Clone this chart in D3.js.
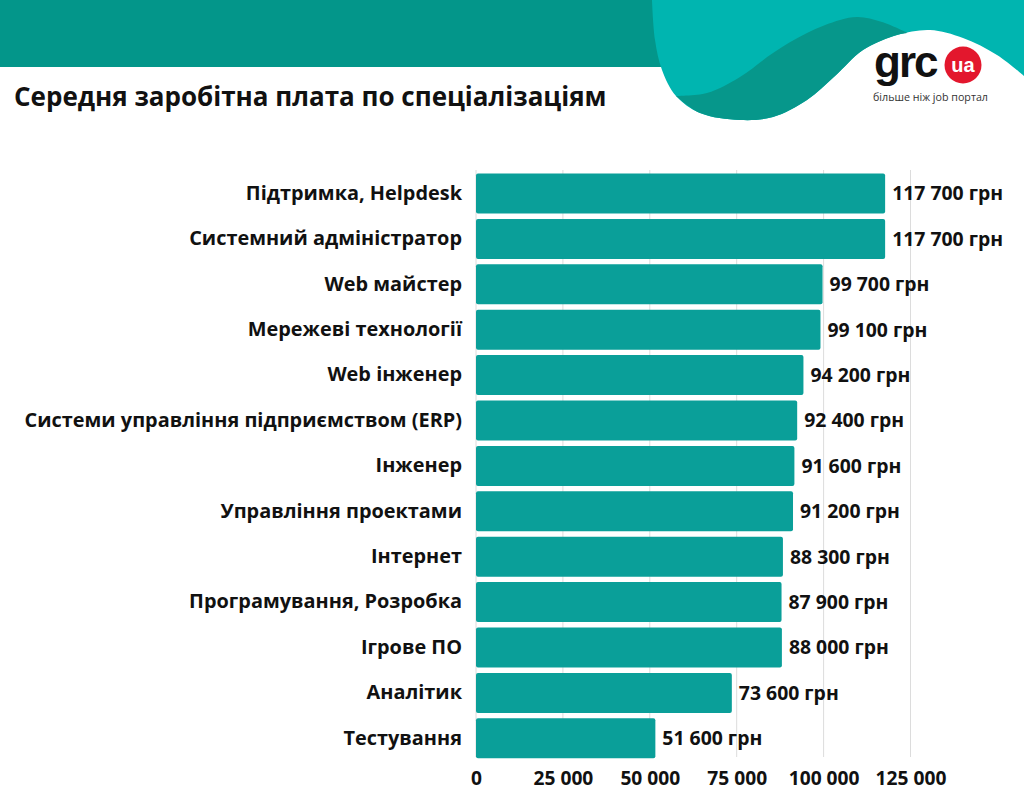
<!DOCTYPE html>
<html><head><meta charset="utf-8">
<script src="https://cdn.jsdelivr.net/npm/d3@7"></script>
<style>html,body{margin:0;padding:0;background:#fff;}svg{display:block;}</style>
</head><body>
<svg id="chart" width="1024" height="805"></svg>
<script>
const categories = ["Підтримка, Helpdesk","Системний адміністратор","Web майстер","Мережеві технології","Web інженер","Системи управління підприємством (ERP)","Інженер","Управління проектами","Інтернет","Програмування, Розробка","Ігрове ПО","Аналітик","Тестування"];
const values = [117700,117700,99700,99100,94200,92400,91600,91200,88300,87900,88000,73600,51600];
const tickValues = [0,25000,50000,75000,100000,125000];
const title = "Середня заробітна плата по спеціалізаціям";
const currency = "грн";

const svg = d3.select("#chart");
const FONT = "'Open Sans', sans-serif";
const loc = d3.formatLocale({decimal:",", thousands:" ", grouping:[3], currency:["",""]});
const fmt = loc.format(",d");

// header decoration
svg.append("rect").attr("x",0).attr("y",0).attr("width",700).attr("height",67).attr("fill","#03968a");
const line = d3.line().curve(d3.curveCatmullRom.alpha(0.5));
const outer = [[652,0],[655,40],[662,70],[676,96],[700,113],[740,120],[773,117],[807,100],[835,76],[863,50],[897,35],[930,30],[963,38],[997,55],[1024,76]];
svg.append("path").attr("d", line(outer) + "L1024,0Z").attr("fill","#00b5b0");
const crescentTop = [[673,96],[707,93],[740,77],[773,53],[807,33],[840,20],[858,17],[882,22],[908,33]];
const crescentBottom = [[908,33],[897,35],[863,50],[835,76],[807,100],[773,117],[740,120],[700,113],[676,96]];
svg.append("path").attr("d", line(crescentTop) + "L" + line(crescentBottom).slice(1) + "Z").attr("fill","#06978b");

// logo
svg.append("text").attr("x",874).attr("y",77).attr("font-family","'Liberation Sans', Arial, sans-serif")
  .attr("font-weight","bold").attr("font-size",44).attr("letter-spacing",-2).attr("fill","#111").text("grc");
svg.append("circle").attr("cx",963).attr("cy",65).attr("r",18.5).attr("fill","#e3172d");
svg.append("text").attr("x",963).attr("y",72).attr("text-anchor","middle").attr("font-family","'Liberation Sans', Arial, sans-serif")
  .attr("font-weight","bold").attr("font-size",20).attr("fill","#fff").text("ua");
svg.append("text").attr("x",873).attr("y",101).attr("font-family","'Open Sans', sans-serif")
  .attr("font-size",10.7).attr("fill","#333").text("більше ніж job портал");

// title
svg.append("text").attr("x",14).attr("y",106).attr("font-family",FONT).attr("font-weight","bold")
  .attr("font-size",26).attr("fill","#111").text(title);

// scales
const x = d3.scaleLinear().domain([0,125000]).range([476,910.5]);
const y = d3.scaleBand().domain(categories).range([170.8,761]).paddingInner(0.12).paddingOuter(0.06);

// grid
svg.append("g").selectAll("line").data(tickValues).join("line")
  .attr("x1",d=>x(d)).attr("x2",d=>x(d)).attr("y1",170).attr("y2",757)
  .attr("stroke","#dcdcdc").attr("stroke-width",1);

// bars
svg.append("g").selectAll("rect").data(values).join("rect")
  .attr("x",x(0)).attr("y",(d,i)=>y(categories[i])).attr("width",d=>x(d)-x(0)).attr("height",y.bandwidth())
  .attr("rx",2).attr("fill","#0a9f99");

// value labels
svg.append("g").selectAll("text").data(values).join("text")
  .attr("x",d=>x(d)+7).attr("y",(d,i)=>y(categories[i])+y.bandwidth()/2).attr("dy","0.36em")
  .attr("font-family",FONT).attr("font-weight","bold").attr("font-size",19.4).attr("fill","#111")
  .text(d=>fmt(d)+" "+currency);

// category axis
const yAxis = d3.axisLeft(y).tickSize(0).tickPadding(14);
const gy = svg.append("g").attr("transform",`translate(${x(0)},0)`).call(yAxis);
gy.select(".domain").remove();
gy.selectAll("text").attr("font-family",FONT).attr("font-weight","bold").attr("font-size",19.9).attr("fill","#111");

// value axis
const xAxis = d3.axisBottom(x).tickValues(tickValues).tickFormat(fmt).tickSize(0).tickPadding(14);
const gx = svg.append("g").attr("transform","translate(0,757)").call(xAxis);
gx.select(".domain").remove();
gx.selectAll("text").attr("font-family",FONT).attr("font-weight","bold").attr("font-size",19.2).attr("fill","#111");
</script>
</body></html>
